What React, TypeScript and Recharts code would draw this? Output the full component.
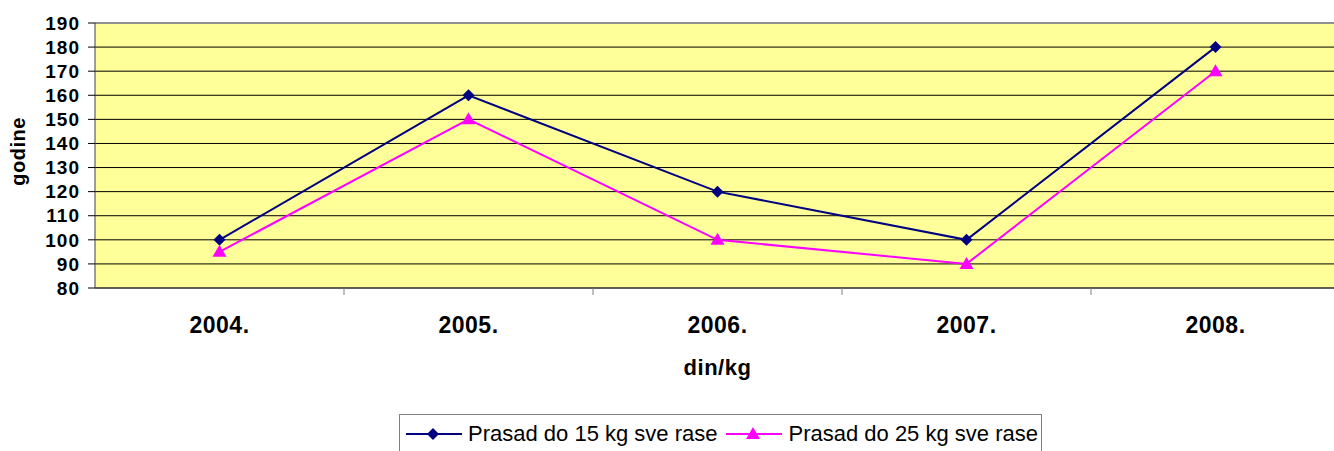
import { LineChart, Line, XAxis, YAxis, CartesianGrid, Legend, ReferenceLine } from 'recharts'

const years = ['2004.', '2005.', '2006.', '2007.', '2008.']
const prasad15 = [100, 160, 120, 100, 180]
const prasad25 = [95, 150, 100, 90, 170]
const yTicks = [80, 90, 100, 110, 120, 130, 140, 150, 160, 170, 180, 190]
const seriesNames = ['Prasad do 15 kg sve rase', 'Prasad do 25 kg sve rase']

const font = '"Liberation Sans", Arial, sans-serif'

// points sit in the middle of each category band, tick marks on the band edges
const data = years.map((y, i) => ({ x: i + 0.5, year: y, s15: prasad15[i], s25: prasad25[i] }))
const xTicks = years.flatMap((_, i) => (i === 0 ? [0.5] : [i, i + 0.5]))

const Diamond = ({ cx, cy }: any) => (
    <path d={`M${cx},${cy - 6} L${cx + 6},${cy} L${cx},${cy + 6} L${cx - 6},${cy} Z`} fill="#000080" />
)

const Triangle = ({ cx, cy }: any) => (
    <path d={`M${cx},${cy - 7} L${cx + 7},${cy + 5} L${cx - 7},${cy + 5} Z`} fill="#FF00FF" />
)

const XTick = ({ x, y, payload }: any) => {
    const v = payload.value
    if (Number.isInteger(v)) {
        return <line x1={x} y1={y} x2={x} y2={y + 7} stroke="#808080" />
    }
    return (
        <text x={x} y={y + 45} textAnchor="middle" fontFamily={font} fontWeight="bold" fontSize={23}
            letterSpacing={0.5} fill="#000">
            {years[Math.floor(v)]}
        </text>
    )
}

const LegendBox = () => (
    <div style={{
        border: '1px solid #808080', height: 60, boxSizing: 'border-box', display: 'flex',
        alignItems: 'flex-start', paddingTop: 5, paddingLeft: 6, fontFamily: font, fontSize: 22, color: '#000'
    }}>
        <svg width={56} height={24} style={{ marginTop: 2 }}>
            <line x1={0} y1={12} x2={56} y2={12} stroke="#000080" strokeWidth={2} />
            <Diamond cx={27} cy={12} />
        </svg>
        <span style={{ marginLeft: 6, lineHeight: '28px' }}>{seriesNames[0]}</span>
        <svg width={56} height={24} style={{ marginLeft: 9, marginTop: 2 }}>
            <line x1={0} y1={12} x2={56} y2={12} stroke="#FF00FF" strokeWidth={2} />
            <Triangle cx={27} cy={12} />
        </svg>
        <span style={{ marginLeft: 6, lineHeight: '28px' }}>{seriesNames[1]}</span>
    </div>
)

export default function App() {
    return (
        <div style={{ width: 1334, height: 451, overflow: 'hidden', position: 'relative', background: '#fff' }}>
            <style>{'body{margin:0}'}</style>
            <LineChart width={1345} height={451} data={data} margin={{ top: 23, right: 5, bottom: 0, left: 0 }}>
                <CartesianGrid vertical={false} stroke="#000" fill="#FFFF99" strokeOpacity={1} />
                <XAxis
                    type="number"
                    dataKey="x"
                    domain={[0, 5]}
                    ticks={xTicks}
                    interval={0}
                    height={163}
                    tickLine={false}
                    tickSize={0}
                    tickMargin={0}
                    axisLine={{ stroke: '#404040' }}
                    tick={<XTick />}
                    label={{
                        content: ({ viewBox }: any) => (
                            <text x={viewBox.x + viewBox.width / 2} y={viewBox.y + 87} textAnchor="middle"
                                fontFamily={font} fontWeight="bold" fontSize={22} fill="#000" letterSpacing={0.5}>
                                din/kg
                            </text>
                        )
                    }}
                />
                <YAxis
                    domain={[80, 190]}
                    ticks={yTicks}
                    interval={0}
                    width={95}
                    tickSize={7}
                    tickMargin={8}
                    axisLine={{ stroke: '#404040' }}
                    tickLine={{ stroke: '#000' }}
                    tick={{ fontFamily: font, fontWeight: 'bold', fontSize: 19, fill: '#000', letterSpacing: 1 }}
                    label={{
                        content: ({ viewBox }: any) => (
                            <text transform={`translate(25, ${viewBox.y + viewBox.height / 2 - 4}) rotate(-90)`}
                                textAnchor="middle" fontFamily={font} fontWeight="bold" fontSize={20} fill="#000"
                                letterSpacing={0.5}>
                                godine
                            </text>
                        )
                    }}
                />
                <ReferenceLine y={190} stroke="#909090" strokeWidth={2} />
                <Legend
                    verticalAlign="middle"
                    align="center"
                    layout="horizontal"
                    wrapperStyle={{ top: 414, left: 399, width: 643, height: 60 }}
                    content={<LegendBox />}
                />
                <Line dataKey="s15" name={seriesNames[0]} stroke="#000080" strokeWidth={2} dot={<Diamond />}
                    activeDot={false} isAnimationActive={false} />
                <Line dataKey="s25" name={seriesNames[1]} stroke="#FF00FF" strokeWidth={2} dot={<Triangle />}
                    activeDot={false} isAnimationActive={false} />
            </LineChart>
        </div>
    )
}
